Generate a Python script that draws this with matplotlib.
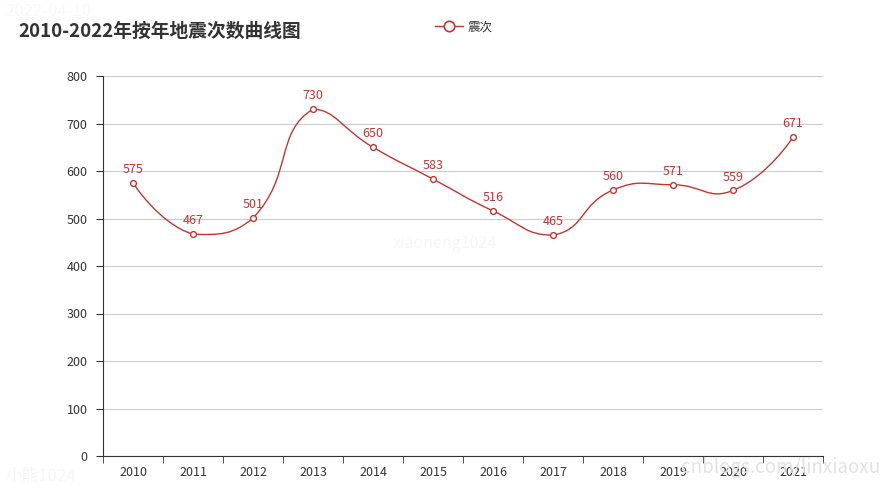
import numpy as np
import matplotlib
matplotlib.use('Agg')
import matplotlib.pyplot as plt
from matplotlib.path import Path
from matplotlib.patches import PathPatch
from matplotlib.lines import Line2D

plt.rcParams['font.family'] = ['Noto Sans CJK SC', 'DejaVu Sans']

# data
years = ['2010', '2011', '2012', '2013', '2014', '2015', '2016',
         '2017', '2018', '2019', '2020', '2021']
counts = [575, 467, 501, 730, 650, 583, 516, 465, 560, 571, 559, 671]
series_name = '震次'
title = '2010-2022年按年地震次数曲线图'

red = '#c23531'

fig = plt.figure(figsize=(8.88, 4.88), dpi=100)
ax = fig.add_axes([103 / 888, 32 / 488, 720 / 888, 380 / 488])
ax.set_xlim(-0.5, len(years) - 0.5)
ax.set_ylim(0, 800)

# echarts-like smooth curve (smooth=0.5, control points clamped to the
# bounding box of the points), computed in pixel space
xs = np.arange(len(years), dtype=float)
ys = np.array(counts, dtype=float)
sx, sy = 60.0, 380 / 800
pts = np.column_stack([xs * sx, ys * sy])
lo, hi = pts.min(axis=0), pts.max(axis=0)
smooth = 0.5
n = len(pts)
verts = [tuple(pts[0])]
codes = [Path.MOVETO]
cp0 = pts[0].copy()
for k in range(1, n):
    p = pts[k]
    if k == n - 1:
        cp1 = p.copy()
        ratio = 0.5
        v = np.zeros(2)
    else:
        prev, nxt = pts[k - 1], pts[k + 1]
        v = nxt - prev
        d0 = np.hypot(*(p - prev))
        d1 = np.hypot(*(p - nxt))
        ratio = d1 / (d0 + d1)
        cp1 = p - v * smooth * (1 - ratio)
    c0 = np.clip(cp0, lo, hi)
    c1 = np.clip(cp1, lo, hi)
    verts += [tuple(c0), tuple(c1), tuple(p)]
    codes += [Path.CURVE4] * 3
    cp0 = p + v * smooth * ratio
verts = [(a / sx, b / sy) for a, b in verts]
ax.add_patch(PathPatch(Path(verts, codes), facecolor='none', edgecolor=red,
                       lw=1.0, zorder=3))

ax.plot(xs, ys, linestyle='none', marker='o', ms=4.2, mfc='white',
        mec=red, mew=1.0, zorder=4)
for x, y in zip(xs, ys):
    ax.annotate(str(int(y)), (x, y), xytext=(0, 5), textcoords='offset points',
                ha='center', va='bottom', color=red, fontsize=9)

# axes styling
ax.set_yticks(np.arange(0, 801, 100))
ax.grid(axis='y', color='#cccccc', lw=0.8)
ax.set_axisbelow(True)
for s in ['top', 'right']:
    ax.spines[s].set_visible(False)
ax.spines['left'].set_color('#333333')
ax.spines['bottom'].set_color('#333333')
ax.set_xticks(xs)
ax.set_xticklabels(years)
ax.tick_params(axis='x', length=0, pad=7, labelsize=9, colors='#333333')
ax.set_xticks(np.arange(-0.5, len(years)), minor=True)
ax.tick_params(axis='x', which='minor', length=5, color='#333333')
ax.tick_params(axis='y', length=5, pad=6, labelsize=9, colors='#333333')

# title and legend
fig.text(18 / 888, 1 - 31 / 488, title, fontsize=13.5, fontweight='bold',
         color='#333333', va='center', ha='left')
handle = Line2D([], [], color=red, lw=1.0, marker='o', ms=7.5, mfc='white',
                mec=red, mew=1.2)
fig.legend([handle], [series_name], loc='center', bbox_to_anchor=(464 / 888, 1 - 27 / 488),
           frameon=False, fontsize=9, handlelength=2.2, handletextpad=0.4,
           labelcolor='#333333')

# faint watermarks
fig.text(5 / 888, 1 - 12 / 488, '2022-04-10', fontsize=12, color='#f8f8f8', va='center')
fig.text(445 / 888, 1 - 243 / 488, 'xiaoneng1024', fontsize=11.5, color='#f6f6f6',
         ha='center', va='center')
fig.text(5 / 888, 1 - 476 / 488, '小能1024', fontsize=12, color='#f6f6f6', va='center')
fig.text(880 / 888, 1 - 468 / 488, 'cnblogs.com/linxiaoxu', fontsize=13.5,
         color='#e3e3e3', ha='right', va='center')

fig.savefig('out.png', dpi=100)
